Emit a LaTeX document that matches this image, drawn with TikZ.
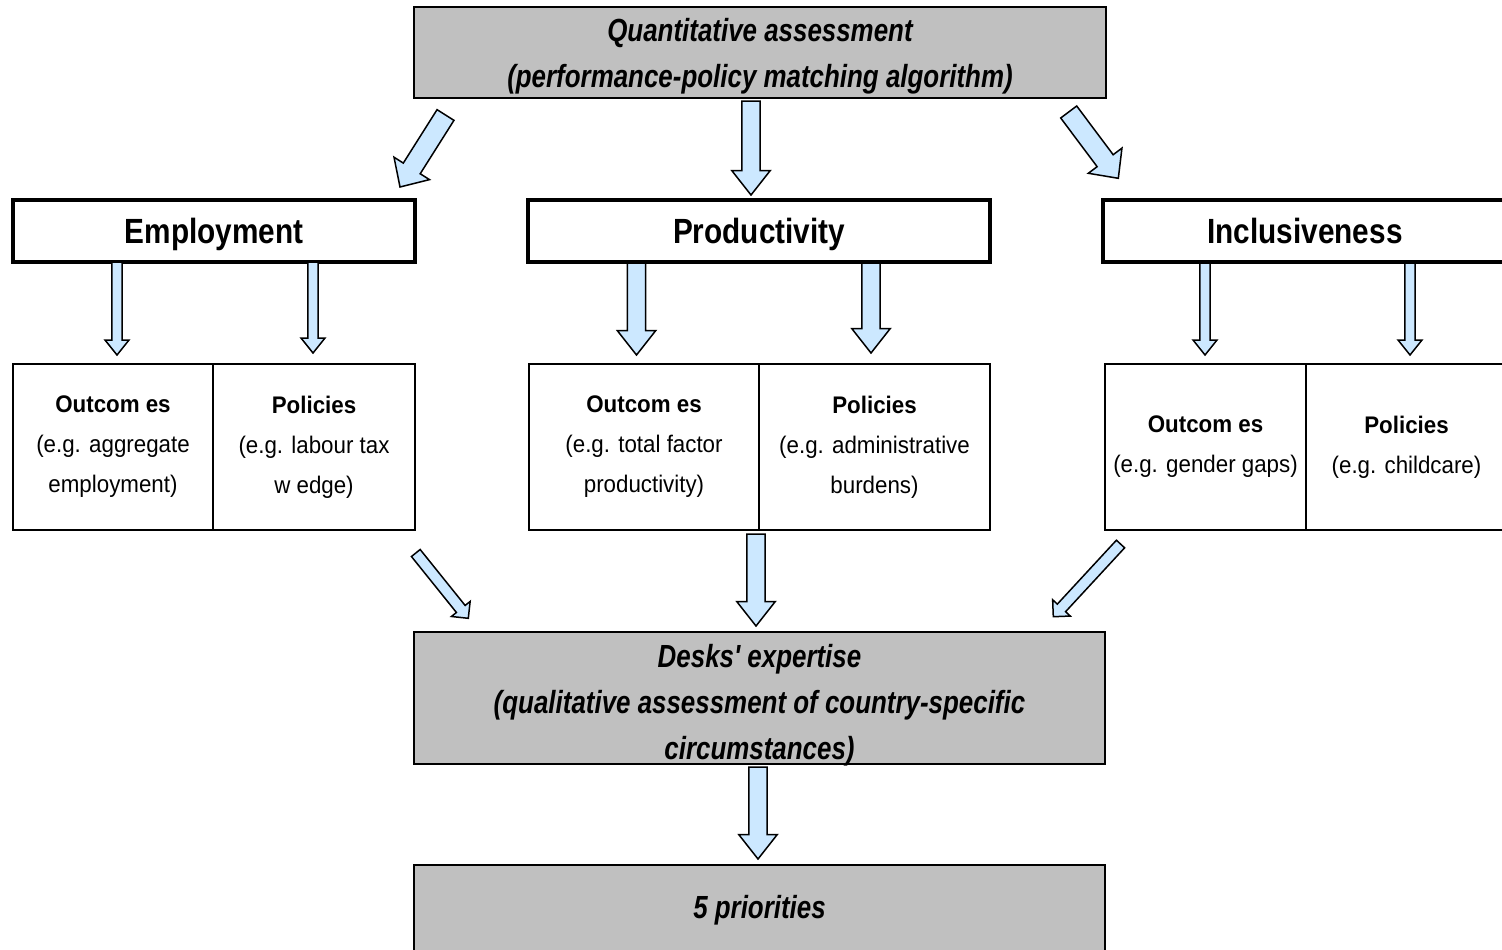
\documentclass[tikz,border=0pt]{standalone}
\usepackage{fontspec}
\usetikzlibrary{calc}
\newfontfamily\qfont[FakeStretch=0.81]{Liberation Sans}
\newfontfamily\hdrfont[FakeStretch=0.85]{Liberation Sans}
\newfontfamily\subfont[FakeStretch=0.93]{Liberation Sans}
\newcommand\toplift{\rule{0pt}{15.2pt}}
\definecolor{boxgray}{RGB}{192,192,192}
\definecolor{arrowblue}{RGB}{204,232,255}
\tikzset{
  graybox/.style={draw=black, line width=1pt, fill=boxgray, inner sep=0pt, align=center,
    font=\fontsize{16}{23}\selectfont\qfont\bfseries\itshape},
  headbox/.style={draw=black, line width=2pt, fill=white, inner sep=0pt, minimum height=31pt,
    text height=12.7pt, text depth=0pt,
    font=\fontsize{17.5}{20}\selectfont\hdrfont\bfseries},
  cellbox/.style={draw=black, line width=0.8pt, fill=white, inner sep=0pt, minimum height=83pt, align=center,
    font=\fontsize{12}{20}\selectfont\subfont},
  barrow/.style n args={3}{draw=black, line width=0.75pt, fill=arrowblue, line join=miter,
    to path={
      ($(\tikztostart)!#1!90:(\tikztotarget)$) --
      ($(\tikztotarget)!#3!(\tikztostart)!#1!-90:(\tikztostart)$) --
      ($(\tikztotarget)!#3!(\tikztostart)!#2!-90:(\tikztostart)$) --
      (\tikztotarget) --
      ($(\tikztotarget)!#3!(\tikztostart)!#2!90:(\tikztostart)$) --
      ($(\tikztotarget)!#3!(\tikztostart)!#1!90:(\tikztostart)$) --
      ($(\tikztostart)!#1!-90:(\tikztotarget)$) -- cycle}},
  bigarrow/.style={barrow={4.6pt}{9.6pt}{12.2pt}},
  smallarrow/.style={barrow={2.6pt}{6pt}{7.5pt}},
  diagarrow/.style={barrow={5pt}{10.5pt}{11pt}},
  diagsmall/.style={barrow={2.8pt}{6pt}{6pt}}
}
\begin{document}
\begin{tikzpicture}[x=0.5pt, y=-0.5pt]
\useasboundingbox (0,0) rectangle (1502,949);
\clip (0,0) rectangle (1502,949);

% main boxes
\node[graybox, minimum width=346pt, minimum height=45.5pt] (top) at (760,52.5)
  {\toplift Quantitative assessment\\(performance-policy matching algorithm)};
\node[graybox, minimum width=345.5pt, minimum height=66pt] (desks) at (759.5,698)
  {\toplift Desks' expertise\\(qualitative assessment of country-specific\\\smash{circumstances)}};
\node[graybox, minimum width=345.5pt, minimum height=45pt] (prio) at (759.5,910)
  {5 priorities};

% category headers
\node[headbox, minimum width=201pt] (emp) at (214,231) {Employment};
\node[headbox, minimum width=231pt] (prod) at (759,231) {Productivity};
\node[headbox, minimum width=202pt] (incl) at (1305,231) {Inclusiveness};

% cells
\node[cellbox, minimum width=100pt] (empO) at (113,447)
  {\textbf{Outcom es}\\(e.g. aggregate\\employment)};
\node[cellbox, minimum width=101pt] (empP) at (314,447)
  {\textbf{Policies}\\(e.g. labour tax\\w edge)};
\node[cellbox, minimum width=115pt] (prodO) at (644,447)
  {\textbf{Outcom es}\\(e.g. total factor\\productivity)};
\node[cellbox, minimum width=115.5pt] (prodP) at (874.5,447)
  {\textbf{Policies}\\(e.g. administrative\\burdens)};
\node[cellbox, minimum width=100.5pt] (inclO) at (1205.5,447)
  {\textbf{Outcom es}\\(e.g. gender gaps)};
\node[cellbox, minimum width=100.5pt] (inclP) at (1406.5,447)
  {\textbf{Policies}\\(e.g. childcare)};

% arrow end points
\coordinate (tlS) at (445.5,115);   \coordinate (tlE) at (400,187);
\coordinate (tcS) at (751,101);     \coordinate (tcE) at (751,195);
\coordinate (trS) at (1068.7,112);  \coordinate (trE) at (1118.3,178.3);
\coordinate (e1S) at (117,262);     \coordinate (e1E) at (117,355);
\coordinate (e2S) at (313,262);     \coordinate (e2E) at (313,353);
\coordinate (p1S) at (636.5,263);   \coordinate (p1E) at (636.5,355);
\coordinate (p2S) at (871,263);     \coordinate (p2E) at (871,353);
\coordinate (i1S) at (1205,263);    \coordinate (i1E) at (1205,355);
\coordinate (i2S) at (1410,263);    \coordinate (i2E) at (1410,355);
\coordinate (blS) at (415.8,553);   \coordinate (blE) at (468.3,618.3);
\coordinate (bcS) at (756,534);     \coordinate (bcE) at (756,626);
\coordinate (brS) at (1120.5,544);  \coordinate (brE) at (1053.3,616.7);
\coordinate (lsS) at (758,767);     \coordinate (lsE) at (758,859);

% arrows
\draw[diagarrow] (tlS) to (tlE);
\draw[bigarrow] (tcS) to (tcE);
\draw[diagarrow] (trS) to (trE);
\draw[smallarrow] (e1S) to (e1E);
\draw[smallarrow] (e2S) to (e2E);
\draw[bigarrow] (p1S) to (p1E);
\draw[bigarrow] (p2S) to (p2E);
\draw[smallarrow] (i1S) to (i1E);
\draw[smallarrow] (i2S) to (i2E);
\draw[diagsmall] (blS) to (blE);
\draw[bigarrow] (bcS) to (bcE);
\draw[diagsmall] (brS) to (brE);
\draw[bigarrow] (lsS) to (lsE);
\end{tikzpicture}
\end{document}
